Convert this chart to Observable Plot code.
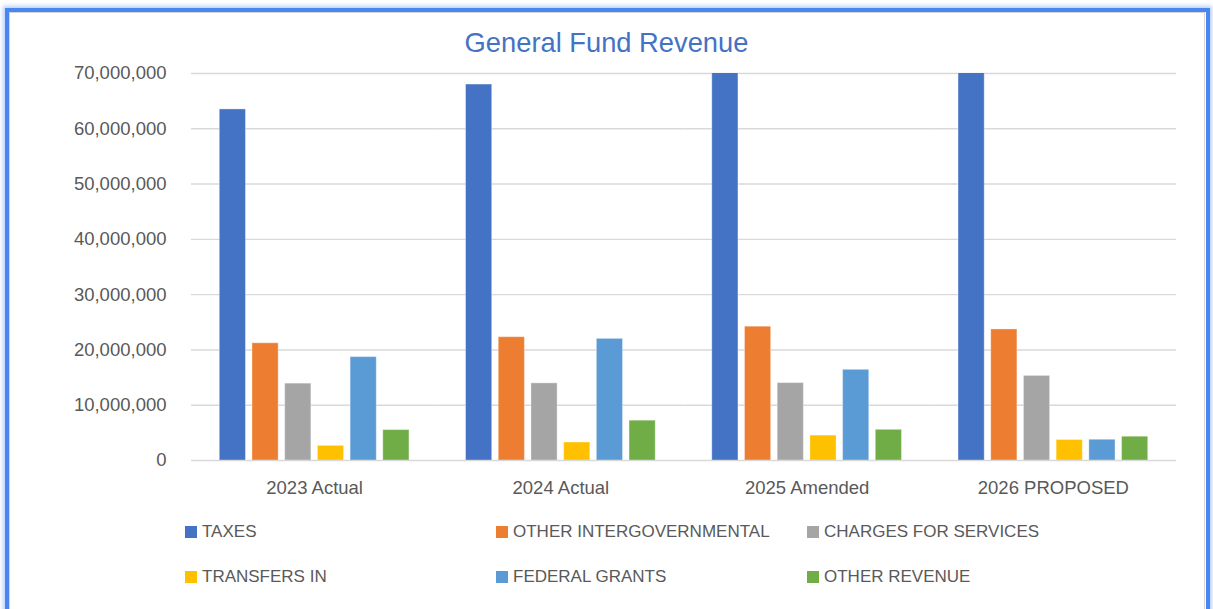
<!DOCTYPE html>
<html>
<head>
<meta charset="utf-8">
<script src="https://cdn.jsdelivr.net/npm/d3@7"></script>
<script src="https://cdn.jsdelivr.net/npm/@observablehq/plot@0.6"></script>
<style>
  html, body { margin: 0; padding: 0; background: #fff; width: 1213px; height: 609px; overflow: hidden; }
  #frame { position: absolute; left: 5px; top: 8px; width: 1197px; height: 620px; border: 4px solid #4a86f0;
           box-shadow: 0 0 4px 2px rgba(90,150,245,0.45); box-sizing: content-box; }
  #inner { position: absolute; left: 9px; top: 12px; width: 1196px; height: 620px; border: 1px solid #d4d4d4; box-sizing: border-box; }
  #chart { position: absolute; left: 0; top: 0; }
  #title { position: absolute; left: 0; width: 1213px; top: 27px; text-align: center; font-family: "Liberation Sans", Arial, sans-serif;
           font-size: 27.3px; color: #4472C4; line-height: 32px; }
  .leg { position: absolute; font-family: "Liberation Sans", Arial, sans-serif; font-size: 17px; color: #595959; line-height: 20px; white-space: nowrap; }
  .leg span.sw { position: absolute; left: -17px; top: 4px; width: 12px; height: 12px; }
</style>
</head>
<body>
<div id="frame"></div>
<div id="inner"></div>
<div id="chart"></div>
<div id="title">General Fund Revenue</div>
<div id="legend"></div>
<script>
const categories = ["2023 Actual", "2024 Actual", "2025 Amended", "2026 PROPOSED"];
const series = ["TAXES", "OTHER INTERGOVERNMENTAL", "CHARGES FOR SERVICES", "TRANSFERS IN", "FEDERAL GRANTS", "OTHER REVENUE"];
const colors = ["#4472C4", "#ED7D31", "#A5A5A5", "#FFC000", "#5B9BD5", "#70AD47"];

const taxes = [63500000, 68000000, 72500000, 73500000];
const otherIntergovernmental = [21200000, 22300000, 24200000, 23700000];
const chargesForServices = [13900000, 13950000, 14000000, 15300000];
const transfersIn = [2650000, 3250000, 4500000, 3700000];
const federalGrants = [18700000, 22000000, 16400000, 3750000];
const otherRevenue = [5500000, 7200000, 5550000, 4300000];

const yTicks = [0, 10000000, 20000000, 30000000, 40000000, 50000000, 60000000, 70000000];

const seriesValues = [taxes, otherIntergovernmental, chargesForServices, transfersIn, federalGrants, otherRevenue];
const data = categories.flatMap((c, i) => series.map((s, j) => ({category: c, series: s, value: seriesValues[j][i]})));

const chart = Plot.plot({
  width: 1213,
  height: 500,
  marginLeft: 191,
  marginRight: 37,
  marginTop: 73,
  marginBottom: 40,
  style: {fontFamily: "'Liberation Sans', Arial, sans-serif", fontSize: "18.5px", color: "#595959", background: "transparent"},
  fx: {domain: categories, padding: 0, round: false, label: null, axis: "bottom", tickSize: 0, tickPadding: 20},
  x: {domain: series, paddingInner: 0.2, paddingOuter: 0.865, round: false, axis: null},
  y: {domain: [0, 70000000], ticks: yTicks, tickFormat: d3.format(","), tickSize: 0, tickPadding: 25, label: null},
  color: {domain: series, range: colors},
  marks: [
    Plot.gridY(yTicks, {stroke: "#d9d9d9", strokeOpacity: 1, strokeWidth: 1.4}),
    Plot.barY(data, {fx: "category", x: "series", y: "value", fill: "series", stroke: "white", strokeOpacity: 0.35, strokeWidth: 1, clip: true})
  ]
});
document.getElementById("chart").appendChild(chart);

const legendPos = [[202, 522], [513, 522], [824, 522], [202, 567], [513, 567], [824, 567]];
const legend = document.getElementById("legend");
series.forEach((s, i) => {
  const d = document.createElement("div");
  d.className = "leg";
  d.style.left = legendPos[i][0] + "px";
  d.style.top = legendPos[i][1] + "px";
  const sw = document.createElement("span");
  sw.className = "sw";
  sw.style.background = colors[i];
  d.appendChild(sw);
  d.appendChild(document.createTextNode(s));
  legend.appendChild(d);
});
</script>
</body>
</html>
